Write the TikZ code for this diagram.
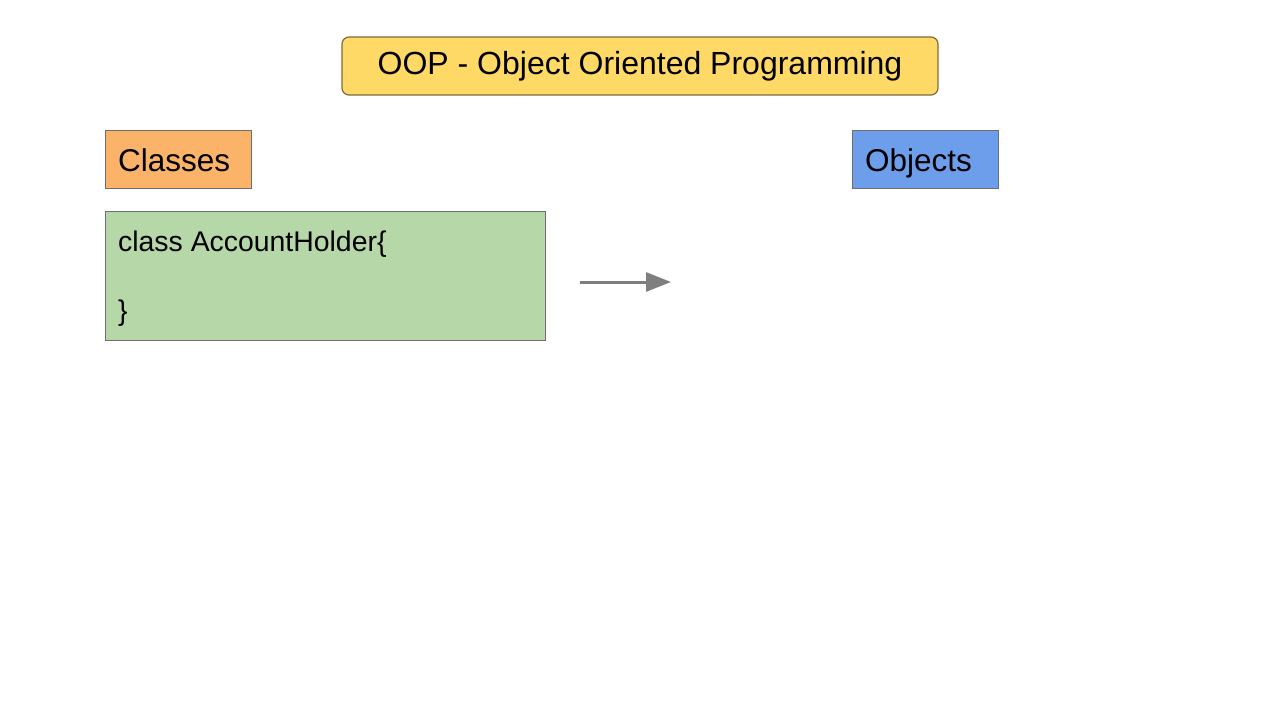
\documentclass[tikz,border=0pt]{standalone}
\usepackage{fontspec}
\setmainfont{Liberation Sans}
\usetikzlibrary{arrows.meta}
\definecolor{titlefill}{HTML}{FFD966}
\definecolor{titledraw}{HTML}{7F6A3E}
\definecolor{classfill}{HTML}{FBB36A}
\definecolor{objfill}{HTML}{6D9EEB}
\definecolor{codefill}{HTML}{B6D7A8}
\definecolor{boxdraw}{HTML}{6E6E6E}
\definecolor{arrowgray}{HTML}{7F7F7F}
\tikzset{
  box/.style={draw=boxdraw, line width=1.2pt, inner sep=0pt},
  bigtext/.style={font=\fontsize{31.5}{36}\selectfont},
  titletext/.style={font=\fontsize{32}{36}\selectfont},
  codetext/.style={font=\fontsize{28.4}{34}\selectfont},
}
\begin{document}
\begin{tikzpicture}[x=1pt,y=-1pt]
\useasboundingbox (0,0) rectangle (1280,720);
\fill[white] (0,0) rectangle (1280,720);
% title
\node[box, draw=titledraw, fill=titlefill, rounded corners=7pt, minimum width=596pt, minimum height=58pt, titletext] (title) at (640,66) {OOP - Object Oriented Programming};
% classes
\node[box, fill=classfill, minimum width=146pt, minimum height=58pt, anchor=north west] (classes) at (105,130) {};
\node[bigtext, anchor=base west, inner sep=0pt] (classestxt) at (118,171) {Classes};
% objects
\node[box, fill=objfill, minimum width=146pt, minimum height=58pt, anchor=north west] (objects) at (852,130) {};
\node[bigtext, anchor=base west, inner sep=0pt] (objectstxt) at (865,171) {Objects};
% code box
\node[box, fill=codefill, minimum width=440pt, minimum height=129pt, anchor=north west] (code) at (105,211) {};
\node[codetext, anchor=base west, inner sep=0pt] (line1) at (118,251) {class AccountHolder\{};
\node[codetext, anchor=base west, inner sep=0pt] (line2) at (118,320) {\}};
% arrow
\coordinate (astart) at (580,282);
\coordinate (aend) at (671,282);
\draw[arrowgray, line width=3pt, -{Triangle[length=25pt, width=19pt]}] (astart) -- (aend);
\end{tikzpicture}
\end{document}
